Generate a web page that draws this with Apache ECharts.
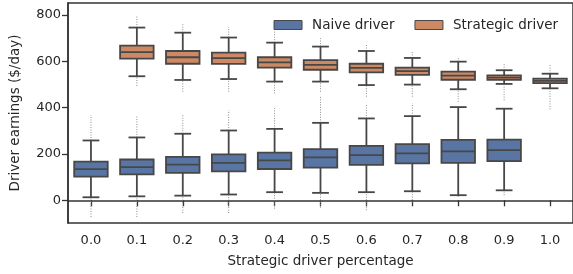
<!DOCTYPE html>
<html>
<head>
<meta charset="utf-8">
<script src="https://cdn.jsdelivr.net/npm/echarts@6/dist/echarts.min.js"></script>
<style>
  html, body { margin: 0; padding: 0; background: #fff; }
  #chart { width: 573px; height: 274px; }
</style>
</head>
<body>
<div id="chart"></div>
<script>
// categories on x
var categories = ['0.0', '0.1', '0.2', '0.3', '0.4', '0.5', '0.6', '0.7', '0.8', '0.9', '1.0'];
var yTicks = [0, 200, 400, 600, 800];

// rows: [category index, flier min, lower whisker, Q1, median, Q3, upper whisker, flier max]
var naiveStats = [
    [0, -72, 13, 102, 134, 167, 258, 368],
    [1, -72, 17, 112, 143, 176, 271, 368],
    [2, -55, 20, 118, 154, 187, 287, 368],
    [3, -55, 25, 125, 161, 198, 301, 389],
    [4, -36, 35, 135, 172, 206, 308, 398],
    [5, -32, 32, 141, 185, 221, 334, 447],
    [6, -43, 35, 153, 195, 235, 353, 418],
    [7, -10, 39, 159, 202, 242, 363, 418],
    [8, 15, 22, 161, 211, 261, 402, 402],
    [9, 22, 43, 169, 216, 262, 395, 395]
];
var strategicStats = [
    [1, 493, 535, 611, 639, 667, 745, 796],
    [2, 468, 519, 589, 617, 644, 723, 761],
    [3, 468, 523, 588, 613, 637, 702, 747],
    [4, 461, 512, 572, 595, 617, 680, 728],
    [5, 468, 512, 563, 584, 605, 663, 699],
    [6, 447, 497, 552, 571, 589, 644, 670],
    [7, 447, 499, 541, 557, 572, 614, 646],
    [8, 425, 479, 520, 538, 555, 598, 620],
    [9, 432, 502, 519, 529, 539, 561, 591],
    [10, 392, 483, 505, 515, 525, 546, 587]
];

var edge = '#474747';

function renderBox(params, api) {
    var idx = api.value(0);
    var p = [];
    for (var i = 1; i <= 7; i++) p.push(api.coord([idx, api.value(i)]));
    var cx = p[0][0];
    var band = api.size([1, 0])[0];
    var bw = band * 0.73;
    var cw = bw / 2;
    var y = function (i) { return p[i][1]; };
    var lineStyle = { stroke: edge, lineWidth: 1.8 };
    var dotStyle = { stroke: '#8c8c8c', lineWidth: 1, lineDash: [1, 1.5] };
    var kids = [];
    if (api.value(1) < api.value(2)) {
        kids.push({ type: 'line', shape: { x1: cx, y1: y(0), x2: cx, y2: y(1) }, style: dotStyle });
    }
    if (api.value(7) > api.value(6)) {
        kids.push({ type: 'line', shape: { x1: cx, y1: y(5), x2: cx, y2: y(6) }, style: dotStyle });
    }
    kids.push(
        { type: 'line', shape: { x1: cx, y1: y(1), x2: cx, y2: y(2) }, style: lineStyle },
        { type: 'line', shape: { x1: cx, y1: y(4), x2: cx, y2: y(5) }, style: lineStyle },
        { type: 'rect', shape: { x: cx - bw / 2, y: y(4), width: bw, height: y(2) - y(4) },
          style: { fill: api.visual('color'), stroke: edge, lineWidth: 1.8 } },
        { type: 'line', shape: { x1: cx - bw / 2, y1: y(3), x2: cx + bw / 2, y2: y(3) }, style: lineStyle },
        { type: 'line', shape: { x1: cx - cw / 2, y1: y(1), x2: cx + cw / 2, y2: y(1) }, style: lineStyle },
        { type: 'line', shape: { x1: cx - cw / 2, y1: y(5), x2: cx + cw / 2, y2: y(5) }, style: lineStyle }
    );
    return { type: 'group', children: kids };
}

var option = {
    animation: false,
    textStyle: { fontFamily: 'DejaVu Sans' },
    grid: {
        left: 66, right: -3, top: 3, bottom: 51,
        show: true, borderColor: '#333', borderWidth: 1.5
    },
    legend: {
        right: 10,
        top: 13,
        itemWidth: 28,
        itemHeight: 9,
        itemGap: 20,
        icon: 'rect',
        textStyle: { fontSize: 13.5, color: '#262626', padding: [0, 0, 0, 5] },
        data: [
            { name: 'Naive driver', itemStyle: { borderColor: edge, borderWidth: 1 } },
            { name: 'Strategic driver', itemStyle: { borderColor: edge, borderWidth: 1 } }
        ]
    },
    xAxis: {
        type: 'category',
        data: categories,
        boundaryGap: true,
        name: 'Strategic driver percentage',
        nameLocation: 'middle',
        nameGap: 31,
        nameTextStyle: { fontSize: 13.5, color: '#262626' },
        axisLine: { show: true, lineStyle: { color: '#333', width: 1.5 } },
        axisTick: { show: true, alignWithLabel: true, length: 6, lineStyle: { color: '#333', width: 1.3 } },
        axisLabel: { fontSize: 13, color: '#262626', margin: 11 },
        splitLine: { show: false }
    },
    yAxis: {
        type: 'value',
        min: -98,
        max: 851,
        name: 'Driver earnings ($/day)',
        nameLocation: 'middle',
        nameGap: 46,
        nameTextStyle: { fontSize: 13.5, color: '#262626' },
        axisLine: { show: true, lineStyle: { color: '#333', width: 1.5 } },
        axisTick: { show: true, length: 6, customValues: yTicks, lineStyle: { color: '#333', width: 1.3 } },
        axisLabel: { fontSize: 13, color: '#262626', margin: 7, customValues: yTicks },
        splitLine: { show: false }
    },
    series: [
        {
            name: 'Naive driver',
            type: 'custom',
            itemStyle: { color: '#5875a4' },
            renderItem: renderBox,
            encode: { x: 0, y: [1, 2, 3, 4, 5, 6, 7] },
            data: naiveStats
        },
        {
            name: 'Strategic driver',
            type: 'custom',
            itemStyle: { color: '#cc8963' },
            renderItem: renderBox,
            encode: { x: 0, y: [1, 2, 3, 4, 5, 6, 7] },
            data: strategicStats
        }
    ]
};

var myChart = echarts.init(document.getElementById('chart'));
myChart.setOption(option);
</script>
</body>
</html>
